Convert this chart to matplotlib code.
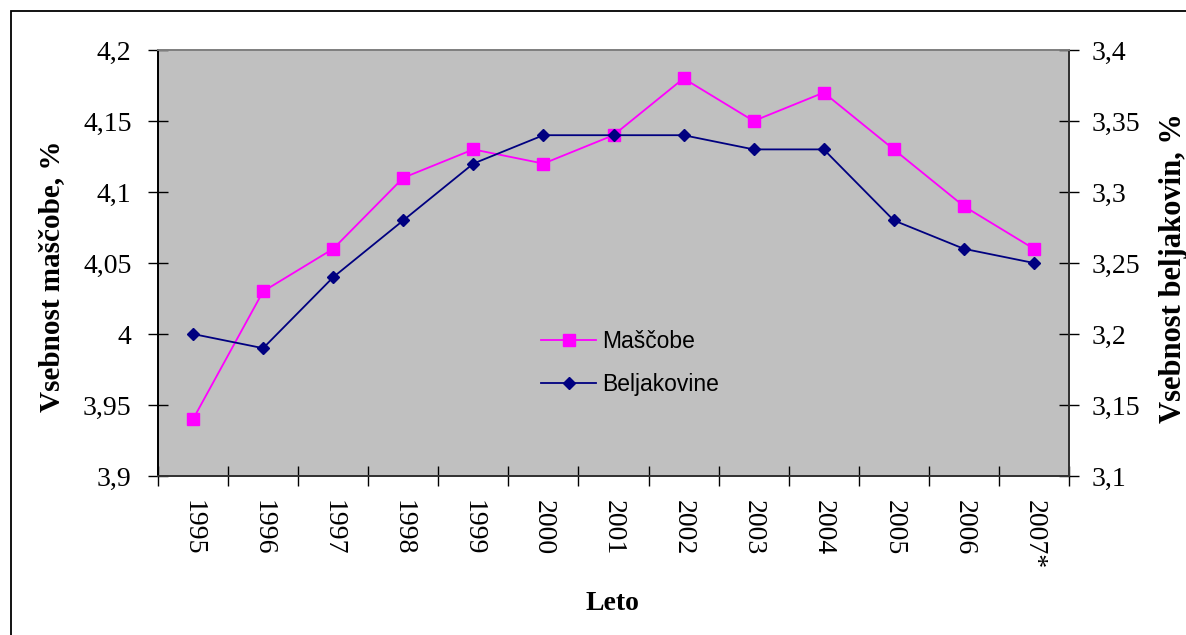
import matplotlib
matplotlib.use("Agg")
import matplotlib.pyplot as plt
from matplotlib.patches import Rectangle
import numpy as np

years = ["1995", "1996", "1997", "1998", "1999", "2000", "2001", "2002",
         "2003", "2004", "2005", "2006", "2007*"]
mascobe = [3.94, 4.03, 4.06, 4.11, 4.13, 4.12, 4.14, 4.18, 4.15, 4.17, 4.13, 4.09, 4.06]
beljakovine = [3.20, 3.19, 3.24, 3.28, 3.32, 3.34, 3.34, 3.34, 3.33, 3.33, 3.28, 3.26, 3.25]
left_ticks = [3.9, 3.95, 4.0, 4.05, 4.1, 4.15, 4.2]
left_labels = ["3,9", "3,95", "4", "4,05", "4,1", "4,15", "4,2"]
right_ticks = [3.1, 3.15, 3.2, 3.25, 3.3, 3.35, 3.4]
right_labels = ["3,1", "3,15", "3,2", "3,25", "3,3", "3,35", "3,4"]

W, H = 1186, 635
fig = plt.figure(figsize=(W / 100, H / 100), dpi=100)
serif = "Liberation Serif"
sans = "Liberation Sans"

x0, x1, y0, y1 = 158, 1069, 50, 476
ax = fig.add_axes([x0 / W, 1 - y1 / H, (x1 - x0) / W, (y1 - y0) / H])
ax.set_facecolor("#C0C0C0")
ax2 = ax.twinx()

x = np.arange(len(years))
l1, = ax.plot(x, mascobe, color="#FF00FF", lw=1.3, marker="s", ms=8,
              markerfacecolor="#FF00FF", markeredgecolor="#FF00FF", label="Maščobe")
l2, = ax2.plot(x, beljakovine, color="#000080", lw=1.3, marker="D", ms=6.5,
               markerfacecolor="#000080", markeredgecolor="#000080", label="Beljakovine")

ax.set_xlim(-0.5, len(years) - 0.5)
ax.set_ylim(3.9, 4.2)
ax2.set_ylim(3.1, 3.4)

ax.set_yticks(left_ticks)
ax.set_yticklabels(left_labels, fontfamily=serif, fontsize=20)
ax2.set_yticks(right_ticks)
ax2.set_yticklabels(right_labels, fontfamily=serif, fontsize=20)
ax.tick_params(axis="y", direction="inout", length=14, width=1, pad=12)
ax2.tick_params(axis="y", direction="inout", length=14, width=1, pad=9)

ax.set_xticks(x)
ax.set_xticklabels(years, rotation=-90, fontfamily=serif, fontsize=20, va="top")
ax.set_xticks(np.arange(len(years) + 1) - 0.5, minor=True)
ax.tick_params(axis="x", which="major", length=0, pad=17)
ax.tick_params(axis="x", which="minor", direction="inout", length=14, width=1)

for a in (ax, ax2):
    a.spines["top"].set_color("#808080")
    a.spines["left"].set_color("black")
    a.spines["bottom"].set_color("#333333")
    a.spines["right"].set_color("#333333")
    for s in a.spines.values():
        s.set_linewidth(1.3)

fig.text(52 / W, 1 - 276 / H, "Vsebnost maščobe, %", rotation=90, ha="center", va="center",
         fontfamily=serif, fontsize=21, fontweight="bold")
fig.text(1173 / W, 1 - 268 / H, "Vsebnost beljakovin, %", rotation=90, ha="center", va="center",
         fontfamily=serif, fontsize=22, fontweight="bold")
fig.text(612 / W, 1 - 603 / H, "Leto", ha="center", va="center",
         fontfamily=serif, fontsize=20, fontweight="bold")

leg = ax.legend(handles=[l1, l2], loc="center",
                bbox_to_anchor=((630 - x0) / (x1 - x0), 1 - (363 - y0) / (y1 - y0)),
                frameon=False, prop={"family": sans, "size": 16.5}, handlelength=2.4,
                labelspacing=0.85, handletextpad=0.25)

fig.patches.append(Rectangle((11 / W, -0.1), 1.2, 1 - 11 / H + 0.1, transform=fig.transFigure,
                             fill=False, edgecolor="black", linewidth=1.3))

fig.savefig("out.png", dpi=100)
